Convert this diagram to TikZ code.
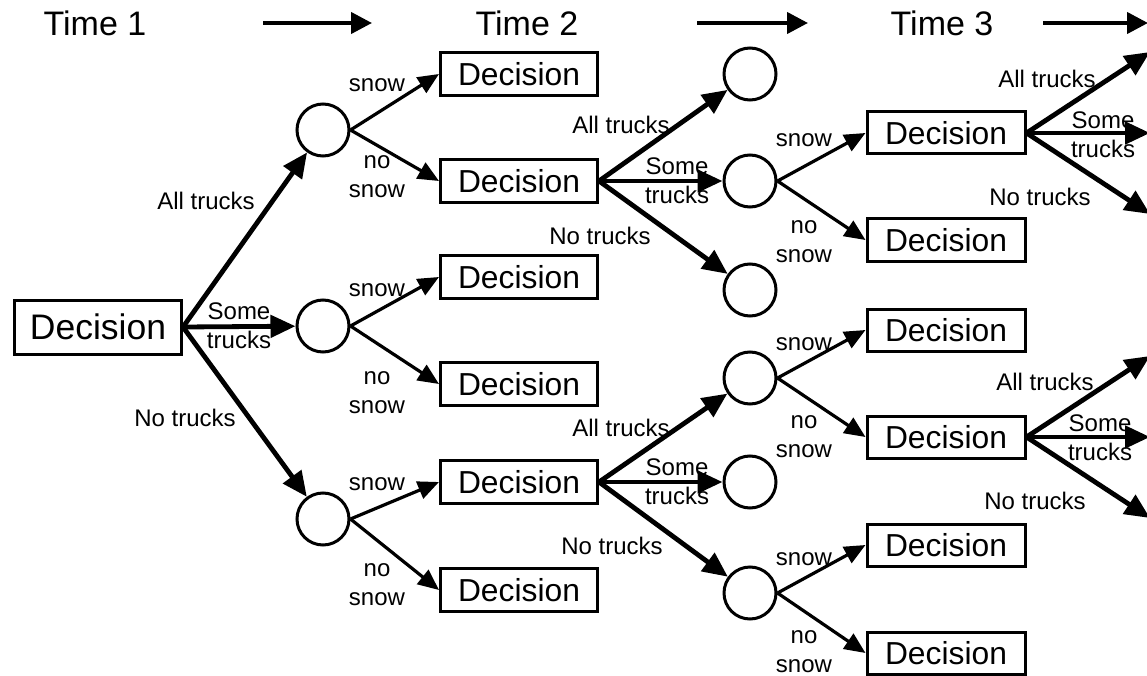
\documentclass[tikz,border=0pt]{standalone}
\usepackage{fontspec}
\setmainfont{Liberation Sans}
\usetikzlibrary{arrows.meta}
\begin{document}
\begin{tikzpicture}[x=1pt,y=-1pt,
  dec/.style={draw, line width=3pt, minimum width=157pt, minimum height=43pt, inner sep=0pt, font=\fontsize{31.8}{36}\selectfont},
  rootdec/.style={dec, minimum width=167pt, minimum height=54pt, font=\fontsize{35.5}{40}\selectfont},
  chance/.style={draw, circle, line width=3pt, minimum size=52pt, inner sep=0pt},
  lbl/.style={font=\fontsize{24}{29}\selectfont, align=center, inner sep=0pt},
  timelbl/.style={font=\fontsize{34}{40}\selectfont, inner sep=0pt, anchor=base},
  thick arrow/.style={-{Triangle[length=25pt,width=22pt]}, line width=4.8pt},
  thin arrow/.style={-{Triangle[length=21pt,width=18pt]}, line width=3.2pt},
  time arrow/.style={-{Triangle[length=21pt,width=21pt]}, line width=4.2pt}]
\useasboundingbox (0,0) rectangle (1147,676);
\clip (0,0) rectangle (1147,676);
% time row
\node[timelbl] (t1) at (95,36) {Time 1};
\node[timelbl] (t2) at (527,36) {Time 2};
\node[timelbl] (t3) at (942,36) {Time 3};
\coordinate (a1s) at (263,23); \coordinate (a1e) at (372,23);
\coordinate (a2s) at (697,23); \coordinate (a2e) at (808,23);
\coordinate (a3s) at (1043,23); \coordinate (a3e) at (1148,23);
\draw[time arrow] (a1s) -- (a1e);
\draw[time arrow] (a2s) -- (a2e);
\draw[time arrow] (a3s) -- (a3e);
% root
\node[rootdec] (D0) at (98,327) {Decision};
% level 1 chance
\node[chance] (C1) at (323,130) {};
\node[chance] (C2) at (323,326) {};
\node[chance] (C3) at (323,519) {};
% level 2 decisions
\node[dec] (D11) at (519,74) {Decision};
\node[dec] (D12) at (519,181) {Decision};
\node[dec] (D21) at (519,277) {Decision};
\node[dec] (D22) at (519,384) {Decision};
\node[dec] (D31) at (519,482) {Decision};
\node[dec] (D32) at (519,590) {Decision};
% level 3 chance
\node[chance] (E1) at (750,74) {};
\node[chance] (E2) at (750,181) {};
\node[chance] (E3) at (750,290) {};
\node[chance] (E4) at (750,378) {};
\node[chance] (E5) at (750,482) {};
\node[chance] (E6) at (750,593) {};
% level 4 decisions
\node[dec, minimum width=158pt, minimum height=42pt] (F1) at (946,133) {Decision};
\node[dec, minimum width=158pt, minimum height=42pt] (F2) at (946,240) {Decision};
\node[dec, minimum width=158pt, minimum height=42pt] (F3) at (946,330) {Decision};
\node[dec, minimum width=158pt, minimum height=42pt] (F4) at (946,437) {Decision};
\node[dec, minimum width=158pt, minimum height=42pt] (F5) at (946,545) {Decision};
\node[dec, minimum width=158pt, minimum height=42pt] (F6) at (946,653) {Decision};
% right-edge ends
\coordinate (G1) at (1150,52);
\coordinate (G2) at (1150,133);
\coordinate (G3) at (1150,214);
\coordinate (G4) at (1150,356);
\coordinate (G5) at (1150,437);
\coordinate (G6) at (1150,518);
% arrows level 1
\draw[thick arrow] (D0.east) -- (C1);
\draw[thick arrow] (D0.east) -- (C2);
\draw[thick arrow] (D0.east) -- (C3);
% snow arrows level 1
\draw[thin arrow] (C1.east) -- (D11.west);
\draw[thin arrow] (C1.east) -- (D12.west);
\draw[thin arrow] (C2.east) -- (D21.west);
\draw[thin arrow] (C2.east) -- (D22.west);
\draw[thin arrow] (C3.east) -- (D31.west);
\draw[thin arrow] (C3.east) -- (D32.west);
% decisions level 2
\draw[thick arrow] (D12.east) -- (E1);
\draw[thick arrow] (D12.east) -- (E2);
\draw[thick arrow] (D12.east) -- (E3);
\draw[thick arrow] (D31.east) -- (E4);
\draw[thick arrow] (D31.east) -- (E5);
\draw[thick arrow] (D31.east) -- (E6);
% snow arrows level 3
\draw[thin arrow] (E2.east) -- (F1.west);
\draw[thin arrow] (E2.east) -- (F2.west);
\draw[thin arrow] (E4.east) -- (F3.west);
\draw[thin arrow] (E4.east) -- (F4.west);
\draw[thin arrow] (E6.east) -- (F5.west);
\draw[thin arrow] (E6.east) -- (F6.west);
% decisions level 4
\draw[thick arrow] (F1.east) -- (G1);
\draw[thick arrow] (F1.east) -- (G2);
\draw[thick arrow] (F1.east) -- (G3);
\draw[thick arrow] (F4.east) -- (G4);
\draw[thick arrow] (F4.east) -- (G5);
\draw[thick arrow] (F4.east) -- (G6);
% labels
\node[lbl] (l1) at (206,201) {All trucks};
\node[lbl] (l2) at (239,326) {Some\\trucks};
\node[lbl] (l3) at (185,418) {No trucks};
\node[lbl] (s1) at (377,85) {snow};
\node[lbl] (n1) at (377,177) {no\\snow};
\node[lbl] (s2) at (377,290) {snow};
\node[lbl] (n2) at (377,393) {no\\snow};
\node[lbl] (s3) at (377,484) {snow};
\node[lbl] (n3) at (377,585) {no\\snow};
\node[lbl] (m1) at (621,125) {All trucks};
\node[lbl] (m2) at (677,181) {Some\\trucks};
\node[lbl] (m3) at (600,236) {No trucks};
\node[lbl] (m4) at (621,428) {All trucks};
\node[lbl] (m5) at (677,482) {Some\\trucks};
\node[lbl] (m6) at (612,546) {No trucks};
\node[lbl] (s4) at (804,140) {snow};
\node[lbl] (n4) at (804,242) {no\\snow};
\node[lbl] (s5) at (804,344) {snow};
\node[lbl] (n5) at (804,437) {no\\snow};
\node[lbl] (s6) at (804,559) {snow};
\node[lbl] (n6) at (804,652) {no\\snow};
\node[lbl] (r1) at (1047,79) {All trucks};
\node[lbl] (r2) at (1103,135) {Some\\trucks};
\node[lbl] (r3) at (1040,197) {No trucks};
\node[lbl] (r4) at (1045,382) {All trucks};
\node[lbl] (r5) at (1100,438) {Some\\trucks};
\node[lbl] (r6) at (1035,501) {No trucks};
\end{tikzpicture}
\end{document}
